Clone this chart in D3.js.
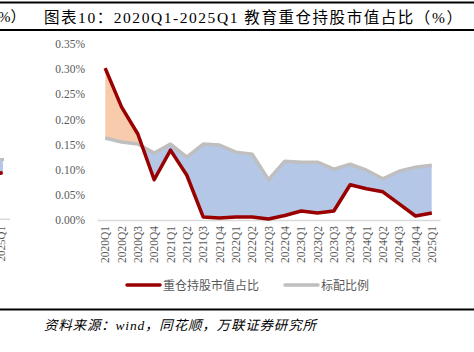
<!DOCTYPE html>
<html><head><meta charset="utf-8">
<script src="https://cdn.jsdelivr.net/npm/d3@7/dist/d3.min.js"></script>
<style>html,body{margin:0;padding:0;background:#fff;}svg{display:block;}</style>
</head><body>
<script>
const categories = ["2020Q1","2020Q2","2020Q3","2020Q4","2021Q1","2021Q2","2021Q3","2021Q4","2022Q1","2022Q2","2022Q3","2022Q4","2023Q1","2023Q2","2023Q3","2023Q4","2024Q1","2024Q2","2024Q3","2024Q4","2025Q1"];
const heldShare = [0.302,0.225,0.171,0.080,0.139,0.089,0.006,0.004,0.006,0.006,0.002,0.009,0.018,0.014,0.018,0.070,0.062,0.056,0.032,0.008,0.014];
const benchmark = [0.163,0.155,0.151,0.133,0.151,0.125,0.151,0.149,0.135,0.131,0.080,0.117,0.115,0.115,0.101,0.111,0.099,0.082,0.097,0.105,0.109];
const yTicks = [0,0.05,0.10,0.15,0.20,0.25,0.30,0.35];
const seriesNames = ["重仓持股市值占比","标配比例"];
const titleText = "图表10：2020Q1-2025Q1 教育重仓持股市值占比（%）";
const sourceText = "资料来源：wind，同花顺，万联证券研究所";

const W=474,H=352;
const svg=d3.select("body").append("svg").attr("width",W).attr("height",H);
const serif="'Liberation Serif','Times New Roman',serif";
const mixed="'Liberation Serif','Noto Sans CJK SC',serif";

function fit(sel,target){
  const w=sel.node().getComputedTextLength();
  const n=sel.text().length;
  sel.attr("letter-spacing",Math.max(0,(target-w)/(n-1)).toFixed(2));
}

// frame lines
[[2.5,2],[30,2],[309.5,2]].forEach(([y,w])=>svg.append("rect").attr("x",0).attr("y",y-w/2).attr("width",W).attr("height",w).attr("fill","#000"));
svg.append("text").attr("x",-2).attr("y",22).attr("font-family",mixed).attr("font-size",15).attr("fill","#000").text("%）");
const t=svg.append("text").attr("x",44).attr("y",22.5).attr("font-family",mixed).attr("font-size",15.5).attr("fill","#000").text(titleText);
fit(t,418);
const s=svg.append("text").attr("x",44).attr("y",330).attr("font-family",mixed).attr("font-size",13.5).attr("font-style","italic").attr("fill","#000").text(sourceText);
fit(s,272);

// clipped left fragment of previous chart
const frag=svg.append("g");
frag.append("rect").attr("x",0).attr("y",218.5).attr("width",10).attr("height",1.5).attr("fill","#d9d9d9");
frag.append("rect").attr("x",0).attr("y",160).attr("width",3).attr("height",12).attr("fill","#b4c7e7");
frag.append("rect").attr("x",0).attr("y",158).attr("width",4).attr("height",3).attr("fill","#bfbfbf");
frag.append("circle").attr("cx",1).attr("cy",173).attr("r",2).attr("fill","#990000");
frag.append("text").attr("transform","translate(5,226) rotate(-90)").attr("text-anchor","end").attr("font-family",serif).attr("font-size",11).attr("fill","#595959").text("2025Q1");

const x=d3.scaleBand().domain(categories).range([97,440]);
const y=d3.scaleLinear().domain([0,0.35]).range([220,44]);
const cx=d=>x(d)+x.bandwidth()/2;

// y axis labels
const ya=svg.append("g").attr("transform","translate(85,0)").call(d3.axisLeft(y).tickValues(yTicks).tickSize(0).tickPadding(0).tickFormat(d=>d.toFixed(2)+"%"));
ya.select(".domain").remove();
ya.selectAll("text").attr("font-family",serif).attr("font-size",11.5).attr("fill","#595959");

// x axis
const xa=svg.append("g").attr("transform","translate(0,220)").call(d3.axisBottom(x).tickSize(0));
xa.select(".domain").attr("stroke","#d9d9d9").attr("stroke-width",1.5);
xa.selectAll("text").attr("font-family",serif).attr("font-size",11.5).attr("fill","#595959")
  .attr("transform","rotate(-90)").attr("text-anchor","end").attr("x",-6).attr("y",0).attr("dy","0.35em");

const data=categories.map((c,i)=>({c,r:heldShare[i],g:benchmark[i]}));
const defs=svg.append("defs");
const above=d3.area().x(d=>cx(d.c)).y0(0).y1(d=>y(d.g));
const below=d3.area().x(d=>cx(d.c)).y0(H).y1(d=>y(d.g));
defs.append("clipPath").attr("id","cAbove").append("path").attr("d",above(data));
defs.append("clipPath").attr("id","cBelow").append("path").attr("d",below(data));
const between=d3.area().x(d=>cx(d.c)).y0(d=>y(d.g)).y1(d=>y(d.r));
svg.append("path").attr("d",between(data)).attr("fill","#f8cbad").attr("clip-path","url(#cAbove)");
svg.append("path").attr("d",between(data)).attr("fill","#b4c7e7").attr("clip-path","url(#cBelow)");

const lineG=d3.line().x(d=>cx(d.c)).y(d=>y(d.g));
const lineR=d3.line().x(d=>cx(d.c)).y(d=>y(d.r));
svg.append("path").attr("d",lineG(data)).attr("fill","none").attr("stroke","#bfbfbf").attr("stroke-width",3.5).attr("stroke-linejoin","round");
svg.append("path").attr("d",lineR(data)).attr("fill","none").attr("stroke","#990000").attr("stroke-width",3.5).attr("stroke-linejoin","round");

// legend
const lg=svg.append("g");
const items=[{n:seriesNames[0],c:"#990000",x:127},{n:seriesNames[1],c:"#bfbfbf",x:285}];
items.forEach(it=>{
  lg.append("line").attr("x1",it.x).attr("x2",it.x+33).attr("y1",285).attr("y2",285).attr("stroke",it.c).attr("stroke-width",3.5).attr("stroke-linecap","round");
  lg.append("text").attr("x",it.x+36).attr("y",289.5).attr("font-family","'Noto Sans CJK SC',sans-serif").attr("font-size",12).attr("fill","#595959").text(it.n);
});
</script>
</body></html>
